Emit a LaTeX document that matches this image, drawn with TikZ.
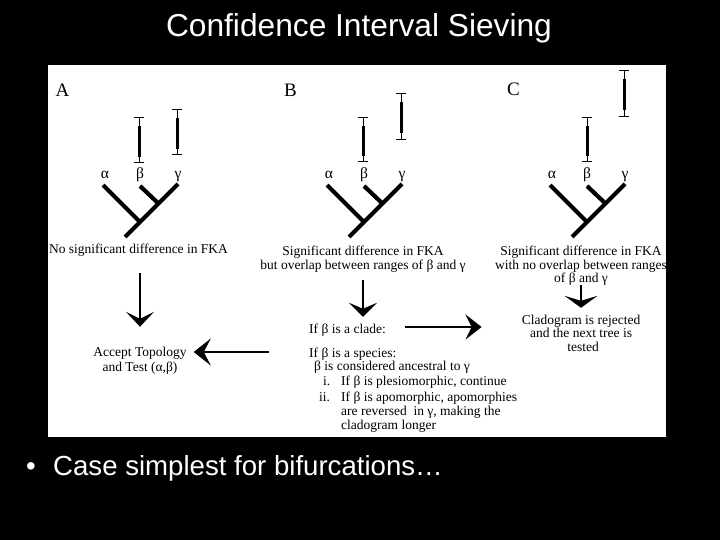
\documentclass[tikz,border=0pt]{standalone}
\usepackage{fontspec}
\setmainfont{Liberation Serif}
\newfontfamily\arialf{Liberation Sans}
\usetikzlibrary{arrows.meta}
\newcommand\ciBar[3]{% x, top, bottom
  \draw[whisk] (#1,#2) -- (#1,#3);
  \draw[whisk] ({#1-5},#2) -- ({#1+5},#2);
  \draw[whisk] ({#1-5},#3) -- ({#1+5},#3);
  \draw[thickbar] (#1,{#2+0.2*(#3-#2)}) -- (#1,{#3-0.12*(#3-#2)});
}
\newcommand\cladeTree[2]{% shift, prefix
  \begin{scope}[xshift=#1pt]
    \draw[branch] (178,184) -- (125,237);
    \draw[branch] (103,185) -- (141,223);
    \draw[branch] (140,186) -- (159,204);
    \node[greek] (#2a) at (105,179) {α};
    \node[greek] (#2b) at (140,179) {β};
    \node[greek] (#2g) at (178,179) {γ};
  \end{scope}
}
\begin{document}
\begin{tikzpicture}[x=1pt,y=-1pt,
  branch/.style={line width=4.2pt},
  whisk/.style={line width=0.9pt},
  thickbar/.style={line width=3pt},
  greek/.style={font=\fontsize{15.5}{17}\selectfont, inner sep=0pt, anchor=base},
  txt/.style={font=\fontsize{13.5}{14}\selectfont, inner sep=0pt, anchor=base, text height=9pt, text depth=3pt},
  ltxt/.style={txt, anchor=base west},
  panel/.style={font=\fontsize{19}{21}\selectfont, inner sep=0pt, anchor=base},
  arr/.style={line width=2.6pt},
  slide/.style={text=white, inner sep=0pt, anchor=base}
]
\useasboundingbox (0,0) rectangle (720,540);
\fill[black] (0,0) rectangle (720,540);
\fill[white] (48,65) rectangle (666,437);

% slide texts
\node[slide, font=\arialf\fontsize{31.7}{36}\selectfont] (title) at (359,37) {Confidence Interval Sieving};
\node[slide, font=\arialf\fontsize{27.6}{32}\selectfont] (bul) at (31,475) {•};
\node[slide, anchor=base west, font=\arialf\fontsize{27.6}{32}\selectfont] (btext) at (53,475) {Case simplest for bifurcations…};

% panel letters
\node[panel] (pA) at (62.5,97) {A};
\node[panel] (pB) at (290.5,97) {B};
\node[panel] (pC) at (513.5,96) {C};

% error bars
\ciBar{139}{117}{162}
\ciBar{177}{109}{154}
\ciBar{363}{117}{161}
\ciBar{401}{93}{139}
\ciBar{587}{117}{161}
\ciBar{624}{70}{116}

% trees
\cladeTree{0}{A}
\cladeTree{224}{B}
\cladeTree{447}{C}

% panel A texts
\node[txt] (at) at (138.5,254) {No significant difference in FKA};
\node[txt] (acc1) at (140,356) {Accept Topology};
\node[txt] (acc2) at (140,371) {and Test (α,β)};

% panel B texts
\node[txt] (b1) at (363,255) {Significant difference in FKA};
\node[txt] (b2) at (363,269) {but overlap between ranges of β and γ};
\node[ltxt] (bc) at (309,333) {If β is a clade:};
\node[ltxt] (bs) at (309,357) {If β is a species:};
\node[ltxt] (bcons) at (314,370) {β is considered ancestral to γ};
\node[ltxt] (bil) at (323,385) {i.};
\node[ltxt] (bi1) at (341,385) {If β is plesiomorphic, continue};
\node[ltxt] (biil) at (319,401) {ii.};
\node[ltxt] (bii1) at (341,401) {If β is apomorphic, apomorphies};
\node[ltxt] (bii2) at (341,415) {are reversed~ in γ, making the};
\node[ltxt] (bii3) at (341,429) {cladogram longer};

% panel C texts
\node[txt] (c1) at (581,255) {Significant difference in FKA};
\node[txt] (c2) at (581,269) {with no overlap between ranges};
\node[txt] (c3) at (581,282) {of β and γ};
\node[txt] (cr1) at (581,324) {Cladogram is rejected};
\node[txt] (cr2) at (581,337) {and the next tree is};
\node[txt] (cr3) at (583,351) {tested};

% arrows
\draw[arr, -{Stealth[length=15pt,width=28pt,inset=7pt]}, shorten <=16pt, shorten >=20pt]
  (at.south -| acc1.north) -- (acc1.north);
\draw[arr, -{Stealth[length=14pt,width=28pt,inset=6pt]}, shorten <=8pt, shorten >=7pt]
  (b2.south) -- (b2.south |- bc.north);
\draw[arr, -{Stealth[length=12pt,width=33pt,inset=5pt]}, shorten <=0pt, shorten >=7pt]
  (c3.south) -- (c3.south |- cr1.north);
\draw[arr, -{Stealth[length=16pt,width=25pt,inset=6pt]}, shorten <=19pt, shorten >=40pt]
  ([yshift=3pt]bc.east) -- ([yshift=3pt]bc.east -| cr1.west);
\draw[arr, -{Stealth[length=17pt,width=27pt,inset=7pt]}, shorten <=40pt, shorten >=7pt]
  ([yshift=2pt]bs.west) -- ([yshift=2pt]bs.west -| acc1.east);
\end{tikzpicture}
\end{document}
